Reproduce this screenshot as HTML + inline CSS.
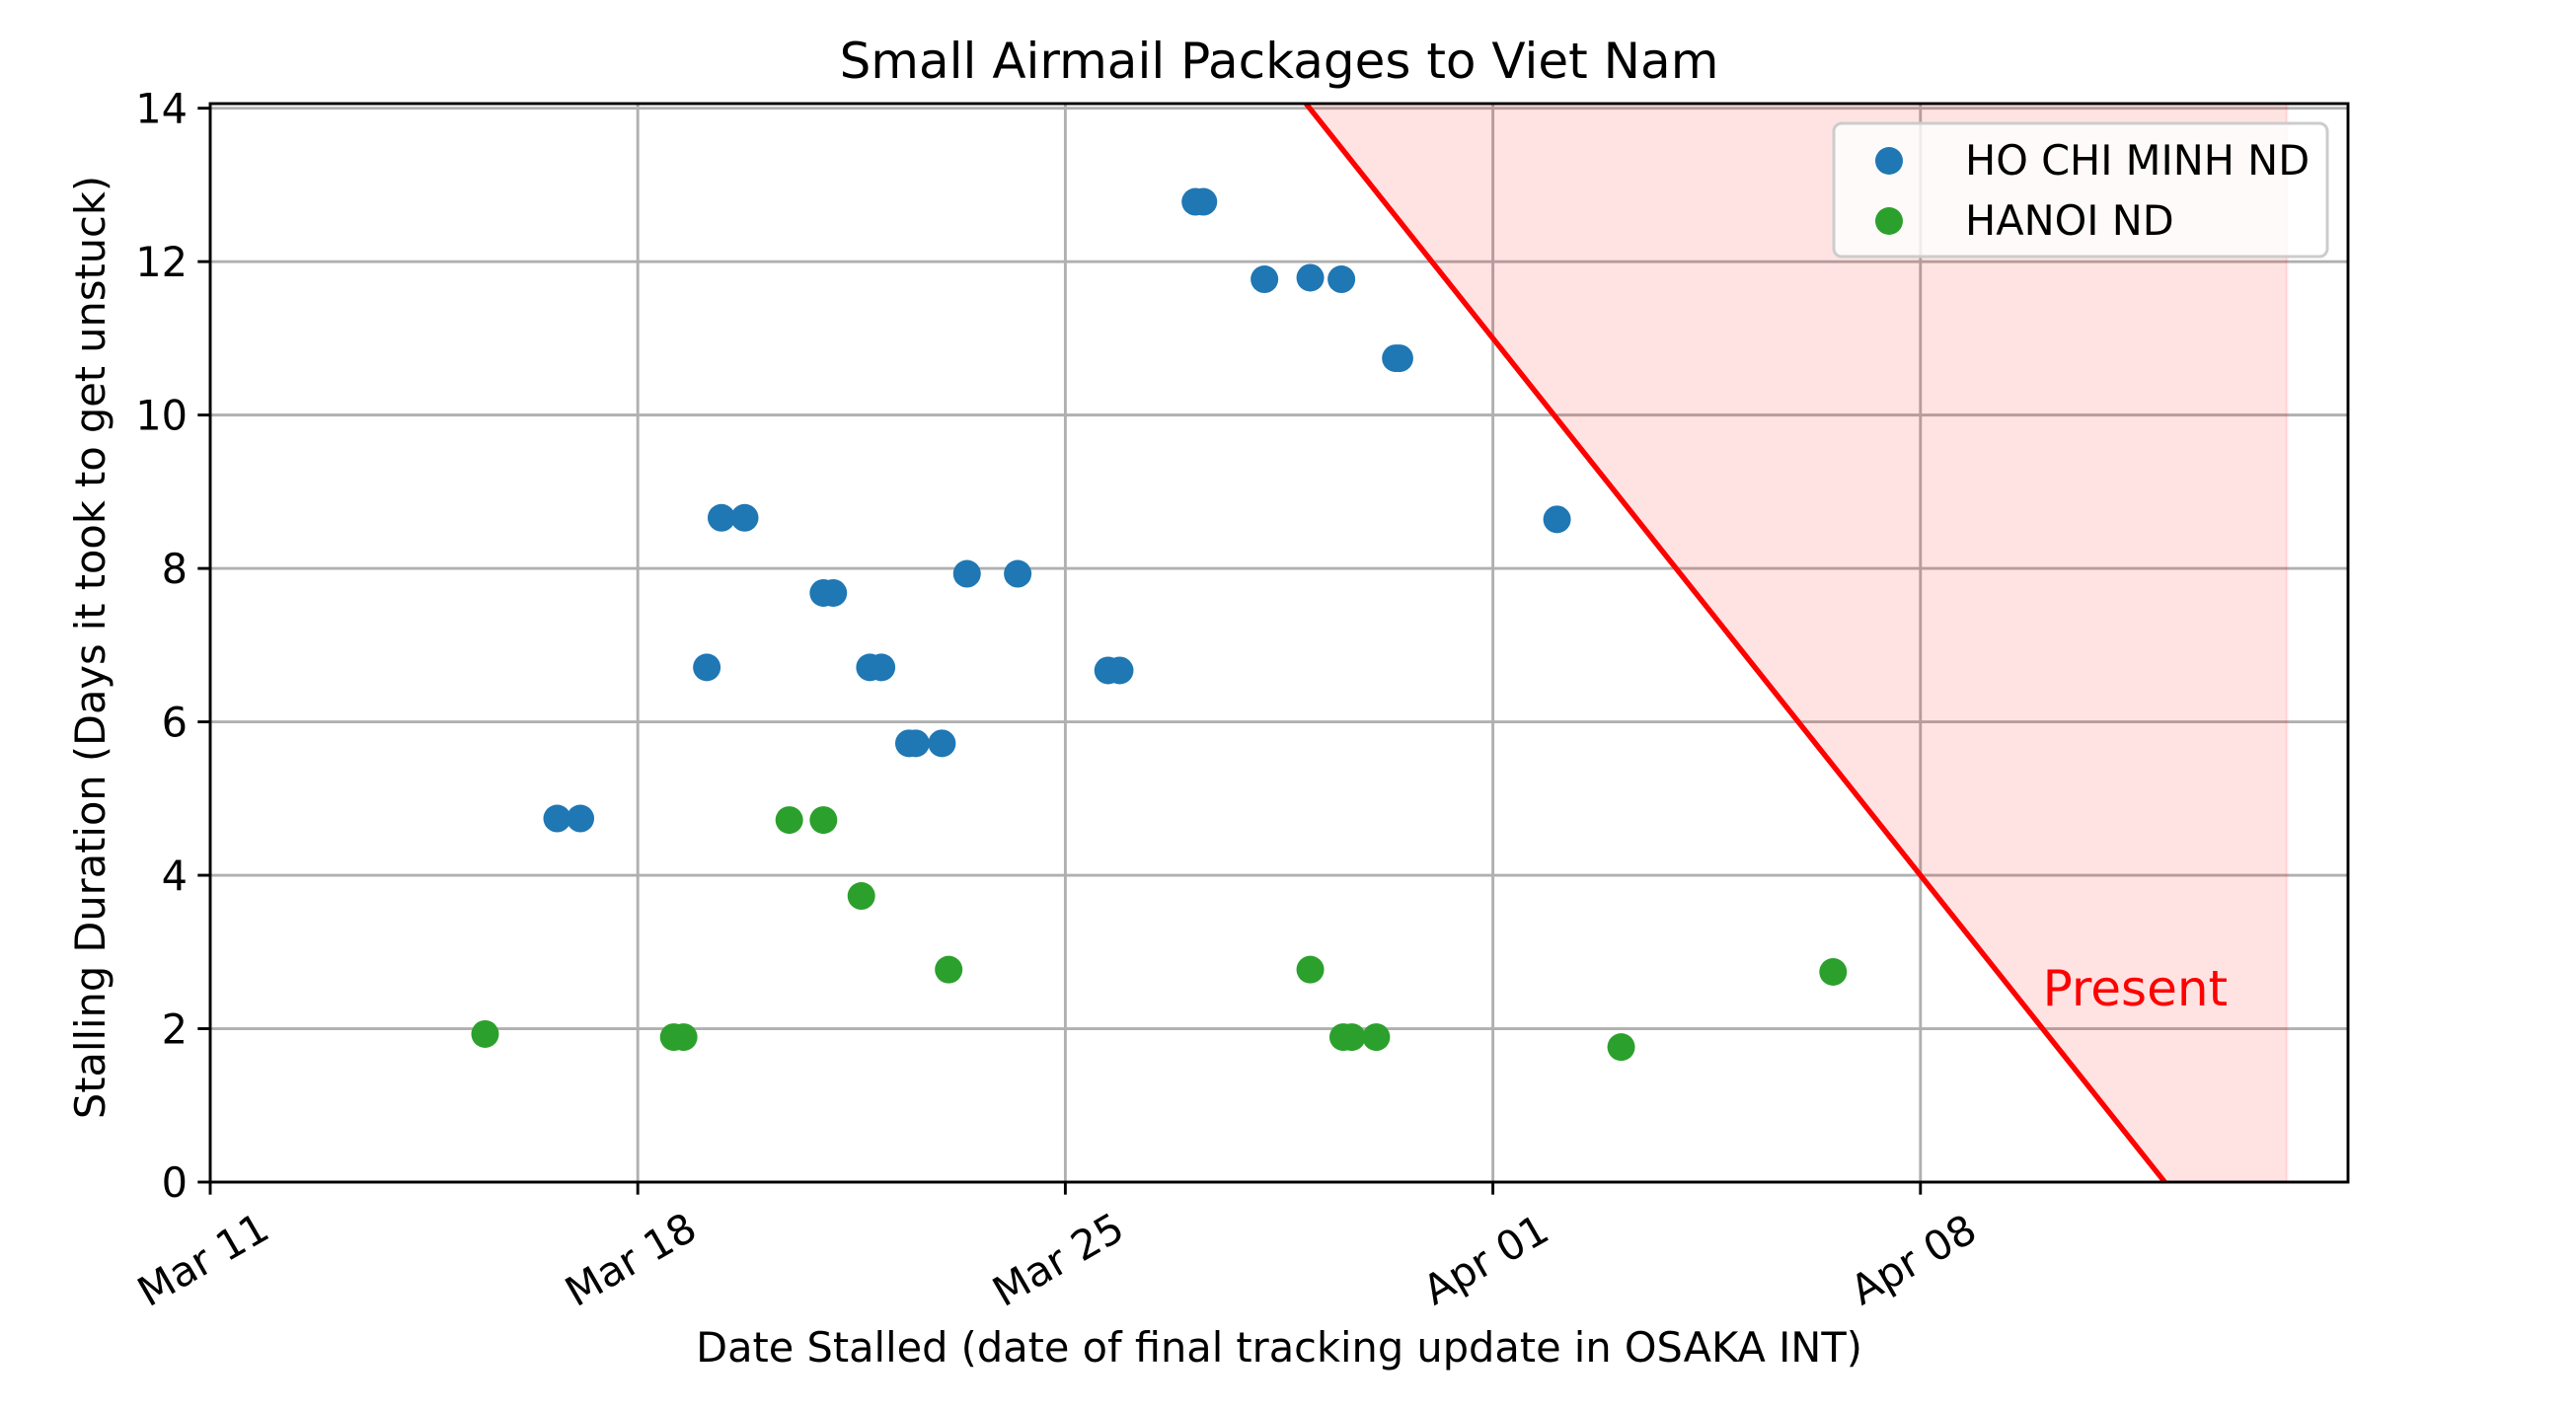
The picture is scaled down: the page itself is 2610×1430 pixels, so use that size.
<!DOCTYPE html>
<html><head><meta charset="utf-8"><style>
html,body{margin:0;padding:0;background:#fff;}
svg{display:block;font-family:"DejaVu Sans","Liberation Sans",sans-serif;}
</style></head><body>
<svg id="chart" width="2610" height="1430" viewBox="0 0 2610 1430" xmlns="http://www.w3.org/2000/svg">
<rect width="2610" height="1430" fill="#fff"/>
<g id="grid"></g>
<g id="shade"></g>
<g id="marks"></g>
<g id="axes"></g>
<text x="1296" y="79" font-size="50" text-anchor="middle">Small Airmail Packages to Viet Nam</text>
<text x="1296" y="1380" font-size="41.5" text-anchor="middle">Date Stalled (date of final tracking update in OSAKA INT)</text>
<text transform="translate(106,656) rotate(-90)" font-size="41.5" text-anchor="middle">Stalling Duration (Days it took to get unstuck)</text>
<g>
<rect x="1858" y="125" width="500" height="135" rx="8" fill="#fff" fill-opacity="0.8" stroke="#cccccc" stroke-width="3"/>
<circle cx="1914" cy="163" r="14" fill="#1f77b4"/>
<text x="1991" y="177" font-size="41.5">HO CHI MINH ND</text>
<circle cx="1914" cy="224" r="14" fill="#2ca02c"/>
<text x="1991" y="238" font-size="41.5">HANOI ND</text>
</g>
</svg>
<script>
// days since Mar 11
const hcmDays = [5.68,6.06,8.13,8.37,8.75,10.04,10.20,10.80,10.99,11.44,11.55,11.98,12.39,13.22,14.70,14.89,16.13,16.26,17.26,18.01,18.52,19.41,19.47,22.05];
const hcmValues = [4.74,4.74,6.71,8.66,8.66,7.68,7.68,6.71,6.71,5.72,5.72,5.72,7.93,7.93,6.67,6.67,12.78,12.78,11.77,11.79,11.77,10.74,10.74,8.64];
const hanoiDays = [4.50,7.59,7.75,9.48,10.04,10.66,12.09,18.01,18.55,18.69,19.09,23.10,26.57];
const hanoiValues = [1.93,1.89,1.89,4.72,4.72,3.73,2.77,2.77,1.89,1.89,1.89,1.76,2.74];
const xTickDays = [0,7,14,21,28];
const xTickLabels = ["Mar 11","Mar 18","Mar 25","Apr 01","Apr 08"];
const yTicks = [0,2,4,6,8,10,12,14];
const presentDay = [32];
const shadeEndDay = [34];

const L=213,R=2379,T=105,B=1198;
const xMin=0,xMax=35,yMin=0,yMax=14.06;
const X=d=>L+(d-xMin)/(xMax-xMin)*(R-L);
const Y=v=>B-(v-yMin)/(yMax-yMin)*(B-T);
const NS="http://www.w3.org/2000/svg";
function mk(tag,attrs,parent){const e=document.createElementNS(NS,tag);for(const k in attrs)e.setAttribute(k,attrs[k]);parent.appendChild(e);return e;}
const grid=document.getElementById('grid'),shade=document.getElementById('shade'),marks=document.getElementById('marks'),axes=document.getElementById('axes');

xTickDays.forEach((d,i)=>{
 const g=mk('line',{x1:X(d),x2:X(d),y1:T,y2:B,stroke:'#b0b0b0','stroke-width':2.9},grid);
 
 
 const t=mk('line',{x1:X(d),x2:X(d),y1:B,y2:B+12.7,stroke:'#000','stroke-width':2.9},axes);
 
 
 const lb=mk('text',{transform:`translate(${X(d)},${1289}) rotate(-30)`,'font-size':41.5,'text-anchor':'middle'},axes);
 lb.textContent=xTickLabels[i];
 
 
});
yTicks.forEach(v=>{
 const g=mk('line',{x1:L,x2:R,y1:Y(v),y2:Y(v),stroke:'#b0b0b0','stroke-width':2.9},grid);
 
 
 const t=mk('line',{x1:L-12.7,x2:L,y1:Y(v),y2:Y(v),stroke:'#000','stroke-width':2.9},axes);
 
 
 const lb=mk('text',{x:190,y:Y(v)+15,'font-size':41.5,'text-anchor':'end'},axes);
 lb.textContent=String(v);
 
 
});

const p=presentDay[0],se=shadeEndDay[0];
const topDay=p-yMax;
const poly=mk('polygon',{points:`${X(topDay)},${Y(yMax)} ${X(se)},${Y(yMax)} ${X(se)},${Y(0)} ${X(p)},${Y(0)}`,fill:'#ff0000','fill-opacity':0.11,stroke:'#ff0000','stroke-opacity':0.08,'stroke-width':3},shade);


const pl=mk('line',{x1:X(topDay),y1:Y(yMax),x2:X(p),y2:Y(0),stroke:'#ff0000','stroke-width':5.4},shade);


const pt=mk('text',{x:X(p-2),y:Y(2.3),'font-size':50,fill:'#ff0000'},shade);
pt.textContent='Present';



hcmDays.forEach((d,i)=>{
 const c=mk('circle',{cx:X(d),cy:Y(hcmValues[i]),r:14,fill:'#1f77b4'},marks);
 
 
});
hanoiDays.forEach((d,i)=>{
 const c=mk('circle',{cx:X(d),cy:Y(hanoiValues[i]),r:14,fill:'#2ca02c'},marks);
 
 
});

const fr=mk('rect',{x:L,y:T,width:R-L,height:B-T,fill:'none',stroke:'#000','stroke-width':2.9},axes);


</script>
</body></html>
